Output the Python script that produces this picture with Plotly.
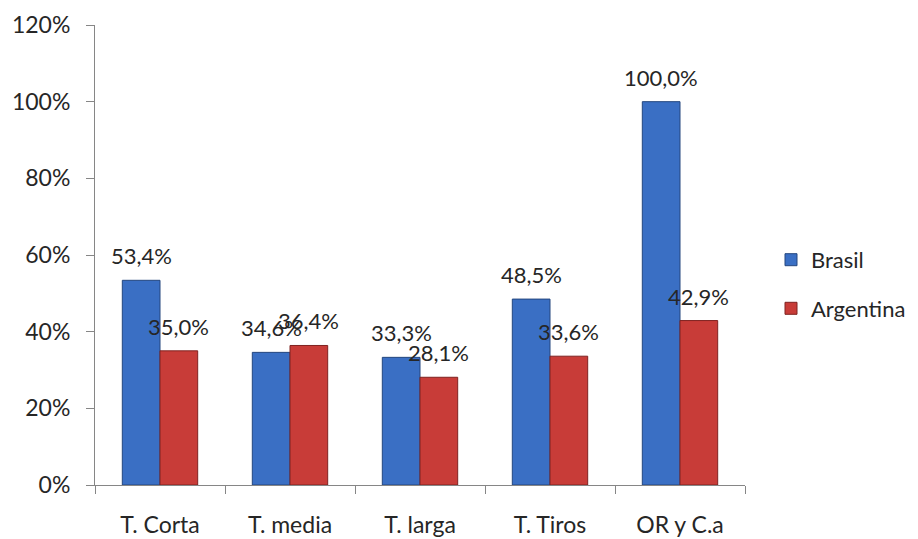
import plotly.graph_objects as go

categories = ["T. Corta", "T. media", "T. larga", "T. Tiros", "OR y C.a"]
brasil = [0.534, 0.346, 0.333, 0.485, 1.000]
argentina = [0.350, 0.364, 0.281, 0.336, 0.429]
series_names = ["Brasil", "Argentina"]

FONT = "Lato, 'Open Sans', sans-serif"
colors = ["#3a6fc4", "#c83c38"]
edges = ["#24477f", "#7f2220"]
TXT = "#262626"

fig = go.Figure()
for i, (name, vals) in enumerate(zip(series_names, [brasil, argentina])):
    fig.add_trace(go.Bar(
        x=categories, y=vals, name=name,
        marker=dict(color=colors[i], line=dict(color=edges[i], width=1)),
        legendgroup=name,
    ))

def fmt(v):
    return f"{v*100:.1f}%".replace(".", ",")

bar_px = 130 * (1 - 0.42) / 2
for i, vals in enumerate([brasil, argentina]):
    shift = (-0.5 if i == 0 else 0.5) * bar_px
    for c, v in zip(categories, vals):
        fig.add_annotation(x=c, y=v, xref="x", yref="y", text=fmt(v),
                           showarrow=False, xshift=shift, yshift=9,
                           yanchor="bottom",
                           font=dict(family=FONT, size=22, color=TXT))

fig.update_layout(
    width=918, height=539,
    margin=dict(l=87, r=181, t=17, b=62, autoexpand=False),
    paper_bgcolor="white", plot_bgcolor="white",
    barmode="group", bargap=0.42, bargroupgap=0,
    font=dict(family=FONT, size=22, color=TXT),
    showlegend=True,
    legend=dict(x=1.04, y=0.535, xanchor="left", yanchor="top",
                tracegroupgap=17, font=dict(family=FONT, size=22),
                itemwidth=30, bgcolor="rgba(0,0,0,0)"),
    separators=",.",
)
fig.update_xaxes(showline=True, linecolor="#868686", linewidth=1,
                 ticks="outside", tickson="boundaries", ticklen=8,
                 tickcolor="#868686", showgrid=False, ticklabelstandoff=19,
                 tickfont=dict(family=FONT, size=23, color=TXT))
fig.update_yaxes(range=[0, 1.2], dtick=0.2, tickformat=".0%",
                 showline=True, linecolor="#868686", linewidth=1,
                 ticks="outside", ticklen=8, tickcolor="#868686",
                 showgrid=False, zeroline=False, ticklabelstandoff=11,
                 tickfont=dict(family=FONT, size=23, color=TXT))

fig.write_html("out.html")
